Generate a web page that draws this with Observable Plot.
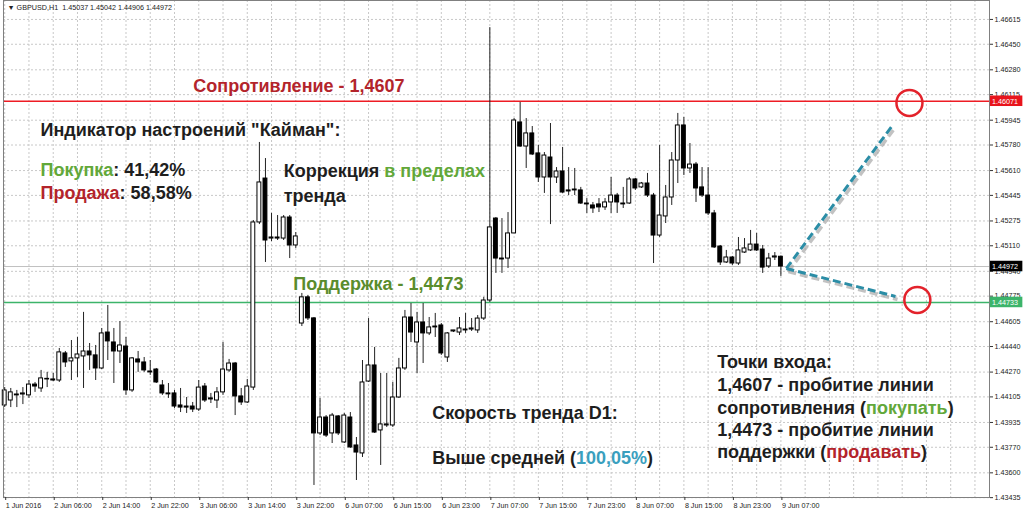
<!DOCTYPE html>
<html><head><meta charset="utf-8">
<script src="https://cdn.jsdelivr.net/npm/d3@7"></script>
<script src="https://cdn.jsdelivr.net/npm/@observablehq/plot@0.6"></script>
<style>body{margin:0;background:#fff;overflow:hidden}</style>
</head><body><div id="chart"></div>
<script>
// GBPUSD H1 candles (bar index 0..128)
const opens = [1.44048,1.44081,1.44121,1.44121,1.44115,1.44187,1.44161,1.44221,1.44221,1.44214,
1.44394,1.44341,1.44361,1.44374,1.44407,1.44381,1.44294,1.44533,1.44467,1.44407,
1.44440,1.44148,1.44354,1.44334,1.44274,1.44287,1.44181,1.44128,1.44128,1.44048,
1.44041,1.44041,1.44021,1.44174,1.44095,1.44081,1.44135,1.44281,1.44327,1.44108,
1.44068,1.44167,1.45265,1.45557,1.45158,1.45165,1.45158,1.45298,1.45112,1.44593,
1.44767,1.44627,1.43862,1.43968,1.43862,1.43975,1.43802,1.43968,1.43782,1.43729,
1.44207,1.44314,1.43882,1.43915,1.43915,1.44101,1.44294,1.44633,1.44467,1.44600,
1.44527,1.44573,1.44580,1.44367,1.44540,1.44533,1.44547,1.44553,1.44547,1.44626,
1.44746,1.45291,1.45025,1.45025,1.45192,1.45930,1.45770,1.45857,1.45724,1.45564,
1.45697,1.45564,1.45604,1.45478,1.45478,1.45478,1.45391,1.45378,1.45385,1.45365,
1.45398,1.45444,1.45391,1.45391,1.45551,1.45498,1.45524,1.45444,1.45178,1.45305,
1.45431,1.45677,1.45910,1.45624,1.45650,1.45498,1.45444,1.45325,1.45105,1.44999,
1.45032,1.44992,1.45065,1.45079,1.45118,1.45085,1.44972,1.45032,1.45037];
const highs = [1.44167,1.44161,1.44148,1.44167,1.44214,1.44201,1.44281,1.44268,1.44261,1.44427,
1.44407,1.44480,1.44500,1.44667,1.44460,1.44447,1.44560,1.44713,1.44560,1.44606,
1.44500,1.44367,1.44407,1.44367,1.44347,1.44294,1.44214,1.44194,1.44148,1.44161,
1.44101,1.44068,1.44214,1.44194,1.44128,1.44167,1.44467,1.44354,1.44334,1.44161,
1.44221,1.45278,1.45797,1.45690,1.45325,1.45311,1.45311,1.45311,1.45198,1.44793,
1.44780,1.44633,1.44095,1.43981,1.43995,1.43981,1.43995,1.44001,1.43835,1.44347,
1.44626,1.44434,1.44261,1.44261,1.44201,1.44361,1.44680,1.44726,1.44667,1.44726,
1.44633,1.44660,1.44593,1.44533,1.44547,1.44633,1.44660,1.44626,1.44646,1.44767,
1.46561,1.45298,1.45291,1.45331,1.45956,1.46063,1.45956,1.45903,1.45777,1.45730,
1.45923,1.45630,1.45764,1.45630,1.45624,1.45498,1.45424,1.45398,1.45424,1.45424,
1.45564,1.45458,1.45498,1.45564,1.45557,1.45531,1.45591,1.45458,1.45777,1.45511,
1.45730,1.45990,1.45963,1.45790,1.45664,1.45630,1.45630,1.45345,1.45112,1.45079,
1.45039,1.45165,1.45158,1.45212,1.45192,1.45112,1.45059,1.45065,1.45042];
const lows = [1.44034,1.44034,1.44034,1.44054,1.44095,1.44135,1.44135,1.44167,1.44207,1.44201,
1.44301,1.44214,1.44234,1.44161,1.44281,1.44214,1.44287,1.44347,1.44194,1.44327,
1.44115,1.44135,1.44268,1.44268,1.44248,1.44194,1.44115,1.44095,1.44028,1.44001,
1.43995,1.44001,1.44008,1.44068,1.44061,1.44028,1.44115,1.44268,1.43981,1.44048,
1.44061,1.44148,1.45251,1.44999,1.45138,1.45145,1.45145,1.45025,1.45092,1.44573,
1.44613,1.43516,1.43848,1.43835,1.43795,1.43848,1.43795,1.43762,1.43549,1.43702,
1.44201,1.43862,1.43649,1.43902,1.43902,1.44095,1.44281,1.44467,1.44261,1.44327,
1.44513,1.44500,1.44381,1.44334,1.44533,1.44513,1.44527,1.44540,1.44527,1.44613,
1.44733,1.44926,1.44926,1.44959,1.45192,1.45764,1.45624,1.45710,1.45531,1.45458,
1.45251,1.45524,1.45458,1.45444,1.45444,1.45385,1.45325,1.45325,1.45331,1.45345,
1.45325,1.45325,1.45358,1.45385,1.45478,1.45491,1.45431,1.44992,1.45165,1.45258,
1.45378,1.45524,1.45577,1.45591,1.45398,1.45431,1.45311,1.45092,1.44979,1.44992,
1.44979,1.44979,1.45059,1.45072,1.45072,1.44926,1.44959,1.45012,1.44906];
const closes = [1.44148,1.44135,1.44115,1.44128,1.44187,1.44174,1.44228,1.44225,1.44214,1.44401,
1.44334,1.44361,1.44387,1.44407,1.44381,1.44294,1.44527,1.44474,1.44407,1.44447,
1.44148,1.44361,1.44334,1.44281,1.44268,1.44201,1.44128,1.44122,1.44041,1.44034,
1.44034,1.44021,1.44167,1.44081,1.44088,1.44135,1.44287,1.44327,1.44108,1.44068,
1.44174,1.45265,1.45531,1.45145,1.45165,1.45158,1.45298,1.45112,1.45172,1.44767,
1.44627,1.43862,1.43968,1.43848,1.43981,1.43862,1.43981,1.43769,1.43735,1.44201,
1.44314,1.43868,1.43922,1.43922,1.44101,1.44294,1.44633,1.44533,1.44600,1.44527,
1.44567,1.44567,1.44394,1.44527,1.44547,1.44560,1.44553,1.44560,1.44626,1.44746,
1.45232,1.45025,1.45019,1.45192,1.45943,1.45770,1.45857,1.45717,1.45564,1.45710,
1.45564,1.45604,1.45464,1.45471,1.45484,1.45391,1.45385,1.45358,1.45365,1.45398,
1.45444,1.45398,1.45385,1.45551,1.45491,1.45524,1.45444,1.45178,1.45311,1.45431,
1.45677,1.45910,1.45624,1.45650,1.45491,1.45444,1.45325,1.45099,1.44999,1.45032,
1.44992,1.45079,1.45092,1.45118,1.45079,1.44965,1.45025,1.45039,1.44972];

const xTickIdx = [0,8,16,24,32,40,48,56,64,72,80,88,96,104,112,120,128];
const xTickLabels = ["1 Jun 2016","2 Jun 06:00","2 Jun 14:00","2 Jun 22:00","3 Jun 06:00","3 Jun 14:00","3 Jun 22:00","6 Jun 07:00","6 Jun 15:00","6 Jun 23:00","7 Jun 07:00","7 Jun 15:00","7 Jun 23:00","8 Jun 07:00","8 Jun 15:00","8 Jun 23:00","9 Jun 07:00"];
const yTicks = [1.46615,1.46450,1.46280,1.46115,1.45945,1.45780,1.45610,1.45445,1.45275,1.45110,1.44940,1.44775,1.44605,1.44440,1.44270,1.44105,1.43935,1.43770,1.43600,1.43435];
const header = "GBPUSD,H1  1.45037 1.45042 1.44906 1.44972";
const resistance = 1.46071, support = 1.44733, lastPrice = 1.44972;

// projected scenarios (bar index, price)
const scenarios = [
  {x1: 128.9, y1: 1.44959, x2: 146.4, y2: 1.45910},
  {x1: 128.9, y1: 1.44959, x2: 146.9, y2: 1.44773}
];
const targets = [{x: 149.2, y: 1.46060}, {x: 150.5, y: 1.44750}];

const RED = "#b3242b", GREEN = "#62a83a", OLIVE = "#5a8c2c", TEAL = "#3a9fbe", INK = "#1e1e1e";
const annotations = [
  {x: 31.1, y: 1.46169, parts: [["Сопротивление - 1,4607", RED]]},
  {x: 5.9, y: 1.45877, parts: [["Индикатор настроений \"Кайман\":", INK]]},
  {x: 5.9, y: 1.45611, parts: [["Покупка", GREEN], [": 41,42%", INK]]},
  {x: 5.9, y: 1.45458, parts: [["Продажа", RED], [": 58,58%", INK]]},
  {x: 46.0, y: 1.45604, parts: [["Коррекция ", INK], ["в пределах", GREEN]]},
  {x: 46.0, y: 1.45438, parts: [["тренда", INK]]},
  {x: 47.6, y: 1.44852, parts: [["Поддержка - 1,4473", OLIVE]]},
  {x: 70.5, y: 1.43995, parts: [["Скорость тренда D1:", INK]]},
  {x: 70.5, y: 1.43695, parts: [["Выше средней (", INK], ["100,05%", TEAL], [")", INK]]},
  {x: 117.5, y: 1.44334, parts: [["Точки входа:", INK]]},
  {x: 117.5, y: 1.44181, parts: [["1,4607 - пробитие линии", INK]]},
  {x: 117.5, y: 1.44028, parts: [["сопротивления (", INK], ["покупать", GREEN], [")", INK]]},
  {x: 117.5, y: 1.43882, parts: [["1,4473 - пробитие линии", INK]]},
  {x: 117.5, y: 1.43735, parts: [["поддержки (", INK], ["продавать", RED], [")", INK]]}
];

const candles = opens.map((o, i) => ({i, open: o, high: highs[i], low: lows[i], close: closes[i]}));
const priceLabels = [
  {v: resistance, color: "#e8141c"},
  {v: lastPrice, color: "#000000"},
  {v: support, color: "#3cb46a"}
];
const gridIdx = d3.range(0, 163, 4);

const plot = Plot.plot({
  width: 1024, height: 516,
  marginLeft: 3, marginRight: 35, marginTop: 0, marginBottom: 19,
  x: {domain: [-0.2, 162.4], axis: null},
  y: {domain: [1.43436, 1.46741], axis: null},
  style: {fontFamily: "'Liberation Sans', Arial, sans-serif", fontSize: "7.2px", background: "#fff", overflow: "visible", color: "#222"},
  marks: [
    Plot.ruleX(gridIdx, {x: d => d, stroke: "#c8c8c8", strokeDasharray: "2,2"}),
    Plot.ruleY(yTicks, {y: d => d, stroke: "#c8c8c8", strokeDasharray: "2,2"}),
    Plot.ruleY([lastPrice], {stroke: "#c0c0c0", strokeWidth: 1}),
    Plot.ruleY([resistance], {stroke: "#ee1c24", strokeWidth: 1.5}),
    Plot.ruleY([support], {stroke: "#3cb46a", strokeWidth: 1.5}),
    Plot.ruleX(candles, {x: "i", y1: "low", y2: "high", stroke: "#222", strokeWidth: 1}),
    Plot.rect(candles, {x1: d => d.i - 0.32, x2: d => d.i + 0.32, y1: "open", y2: "close",
      fill: d => d.close >= d.open ? "#fff" : "#000", stroke: "#000", strokeWidth: 1}),
    Plot.link(scenarios, {x1: "x1", y1: "y1", x2: "x2", y2: "y2", stroke: "#9a9a9a", strokeOpacity: 0.6, strokeWidth: 3.5, strokeDasharray: "8,4", dx: 2, dy: 3}),
    Plot.link(scenarios, {x1: "x1", y1: "y1", x2: "x2", y2: "y2", stroke: "#2b8da6", strokeWidth: 3, strokeDasharray: "8,4"}),
    Plot.dot(targets, {x: "x", y: "y", r: 13, stroke: "#e3222b", strokeWidth: 2.5, fill: "none"}),
    Plot.frame({stroke: "#808080"}),
    Plot.axisY(yTicks, {anchor: "right", tickSize: 3, tickPadding: 2, tickFormat: d => d.toFixed(5), label: null, stroke: "#333"}),
    Plot.axisX(xTickIdx, {anchor: "bottom", tickSize: 3, tickPadding: 2, textAnchor: "start", dx: 1, tickFormat: d => xTickLabels[xTickIdx.indexOf(d)], label: null, stroke: "#333"}),
    Plot.rect(priceLabels, {x1: 162.55, x2: 167.9, y1: d => d.v - 0.00035, y2: d => d.v + 0.00035, fill: "color"}),
    Plot.text(priceLabels, {x: 162.55, y: "v", text: d => d.v.toFixed(5), fill: "#fff", textAnchor: "start", dx: 1.5, fontSize: 7.2}),
    Plot.text([header], {frameAnchor: "top-left", dx: 4, dy: 4, textAnchor: "start", text: d => "▼ " + d, fill: "#222", fontSize: 7.2}),
    Plot.text(annotations, {x: "x", y: "y", text: d => d.parts.map(p => p[0]).join(""), textAnchor: "start", fontSize: 18, fontWeight: "bold", fill: INK})
  ]
});
document.getElementById("chart").appendChild(plot);

// colour the segments of each annotation line
const svgNS = "http://www.w3.org/2000/svg";
const textEls = Array.from(plot.querySelectorAll("text"));
annotations.forEach(a => {
  const full = a.parts.map(p => p[0]).join("");
  const t = textEls.find(el => el.textContent === full && !el.dataset.done);
  if (!t) return;
  t.textContent = "";
  a.parts.forEach(([s, c]) => {
    const ts = document.createElementNS(svgNS, "tspan");
    ts.textContent = s;
    ts.setAttribute("fill", c);
    t.appendChild(ts);
  });
  t.setAttribute("xml:space", "preserve");
  t.dataset.done = "1";
});
</script>
</body></html>
